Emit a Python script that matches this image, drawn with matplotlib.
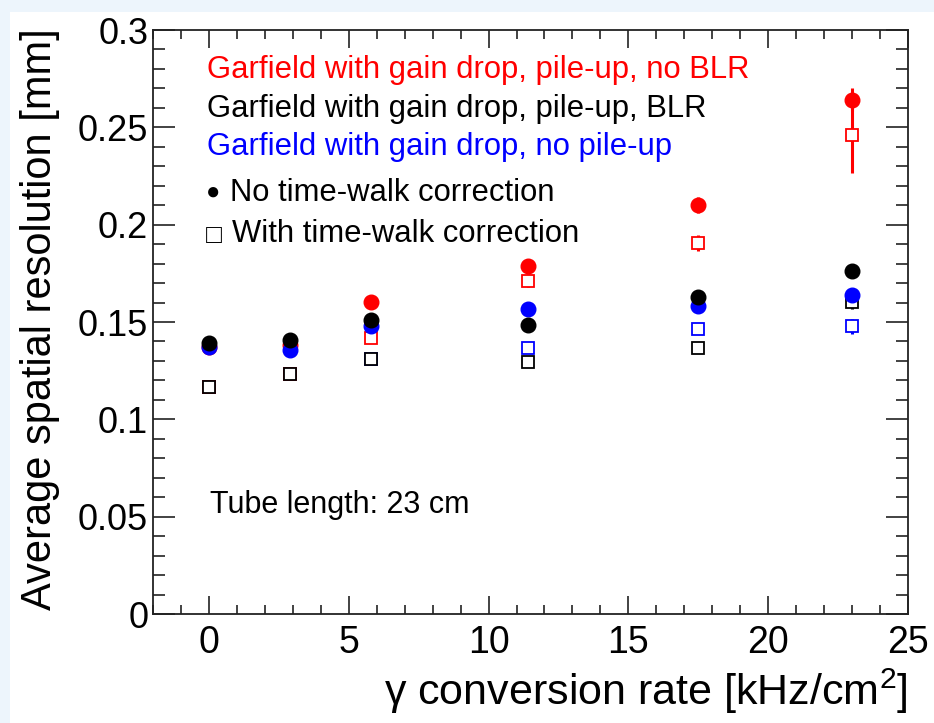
import matplotlib
matplotlib.use("Agg")
import matplotlib.pyplot as plt
from matplotlib.patches import Rectangle
from matplotlib.ticker import MultipleLocator

plt.rcParams['font.family'] = ['Liberation Sans', 'DejaVu Sans']
plt.rcParams['mathtext.fontset'] = 'custom'
plt.rcParams['mathtext.rm'] = 'Liberation Sans'
plt.rcParams['mathtext.it'] = 'Liberation Sans:italic'

# ---- data ----
rate = [0.0, 2.9, 5.8, 11.4, 17.5, 23.0]

red_nocorr = [0.1374, 0.1383, 0.1602, 0.1789, 0.2102, 0.2642]
red_nocorr_err = [0.001, 0.001, 0.001, 0.002, 0.004, 0.006]
red_corr = [0.1165, 0.1233, 0.1419, 0.1713, 0.1905, 0.2462]
red_corr_err = [0.001, 0.001, 0.002, 0.0035, 0.004, 0.0195]

black_nocorr = [0.1391, 0.1408, 0.1508, 0.1487, 0.1626, 0.1760]
black_nocorr_err = [0.001, 0.001, 0.001, 0.001, 0.001, 0.001]
black_corr = [0.1165, 0.1233, 0.1309, 0.1292, 0.1366, 0.1605]
black_corr_err = [0.001, 0.001, 0.001, 0.001, 0.001, 0.004]

blue_nocorr = [0.1374, 0.1357, 0.1477, 0.1569, 0.1580, 0.1640]
blue_nocorr_err = [0.001, 0.001, 0.001, 0.001, 0.001, 0.002]
blue_corr = [0.1165, 0.1233, 0.1309, 0.1367, 0.1463, 0.1477]
blue_corr_err = [0.001, 0.001, 0.001, 0.001, 0.001, 0.004]

labels = ["Garfield with gain drop, pile-up, no BLR",
          "Garfield with gain drop, pile-up, BLR",
          "Garfield with gain drop, no pile-up"]
RED, BLACK, BLUE = '#ff0000', '#000000', '#0000ff'

W, H = 934, 723
fig = plt.figure(figsize=(W / 100, H / 100), dpi=100)
fig.patch.set_facecolor('#edf5fc')
fig.patches.append(Rectangle((10 / W, 0), 1, 1 - 12 / H, transform=fig.transFigure,
                             facecolor='white', edgecolor='none', zorder=-5))

ax = fig.add_axes([153 / W, 1 - 614 / H, (908 - 153) / W, (614 - 30) / H])
ax.set_zorder(2)
ax.set_facecolor('white')

def series(y, e, color, marker, z):
    if marker == 'o':
        ax.errorbar(rate, y, yerr=e, fmt='o', color=color, ms=10.5, mec=color,
                    mfc=color, elinewidth=2.2, capsize=0, zorder=z)
    else:
        ax.errorbar(rate, y, yerr=e, fmt='s', color=color, ms=8.5, mec=color,
                    mfc='white', mew=1.3, elinewidth=2.2, capsize=0, zorder=z)

series(blue_corr, blue_corr_err, BLUE, 's', 3)
series(red_corr, red_corr_err, RED, 's', 4)
series(black_corr, black_corr_err, BLACK, 's', 5)
series(red_nocorr, red_nocorr_err, RED, 'o', 6)
series(blue_nocorr, blue_nocorr_err, BLUE, 'o', 7)
series(black_nocorr, black_nocorr_err, BLACK, 'o', 8)

ax.set_xlim(-2, 25)
ax.set_ylim(0, 0.3)
ax.xaxis.set_major_locator(MultipleLocator(5))
ax.xaxis.set_minor_locator(MultipleLocator(1))
ax.yaxis.set_major_locator(MultipleLocator(0.05))
ax.yaxis.set_minor_locator(MultipleLocator(0.01))
ax.set_yticks([0, 0.05, 0.1, 0.15, 0.2, 0.25, 0.3])
ax.set_yticklabels(['0', '0.05', '0.1', '0.15', '0.2', '0.25', '0.3'])

ax.tick_params(axis='x', which='both', direction='in', top=True, bottom=True,
               labelsize=27, pad=8, width=1.2, color='#222222')
ax.tick_params(axis='x', which='major', length=13)
ax.tick_params(axis='x', which='minor', length=6.5)
ax.tick_params(axis='y', which='both', direction='in', left=True, right=True,
               labelsize=26, pad=3.5, width=1.2, color='#222222')
ax.tick_params(axis='y', which='major', length=16)
ax.tick_params(axis='y', which='minor', length=8.5)
for s in ax.spines.values():
    s.set_linewidth(1.3)
    s.set_color('#222222')

ax.set_xlabel(r'γ conversion rate [kHz/cm$^{2}$]', fontsize=31, loc='right')
ax.xaxis.set_label_coords(1.0, -0.09)
ax.set_ylabel('Average spatial resolution [mm]', fontsize=30, loc='top')
ax.yaxis.set_label_coords(-0.123, 1.003)

tx = 0.0715
ax.text(tx, 0.932, labels[0], color=RED, fontsize=22.3, transform=ax.transAxes, va='center')
ax.text(tx, 0.864, labels[1], color=BLACK, fontsize=22.3, transform=ax.transAxes, va='center')
ax.text(tx, 0.799, labels[2], color=BLUE, fontsize=22.3, transform=ax.transAxes, va='center')
ax.text(0.0795, 0.721, '●', color=BLACK, fontsize=17, transform=ax.transAxes,
        ha='center', va='center')
ax.text(0.102, 0.721, 'No time-walk correction', color=BLACK, fontsize=22.3,
        transform=ax.transAxes, va='center')
ax.text(0.081, 0.648, '□', color=BLACK, fontsize=19, transform=ax.transAxes,
        ha='center', va='center')
ax.text(0.104, 0.650, 'With time-walk correction', color=BLACK, fontsize=22.3,
        transform=ax.transAxes, va='center')
ax.text(0.075, 0.187, 'Tube length: 23 cm', color=BLACK, fontsize=22,
        transform=ax.transAxes, va='center')

fig.savefig('out.png', dpi=100, facecolor=fig.get_facecolor())
